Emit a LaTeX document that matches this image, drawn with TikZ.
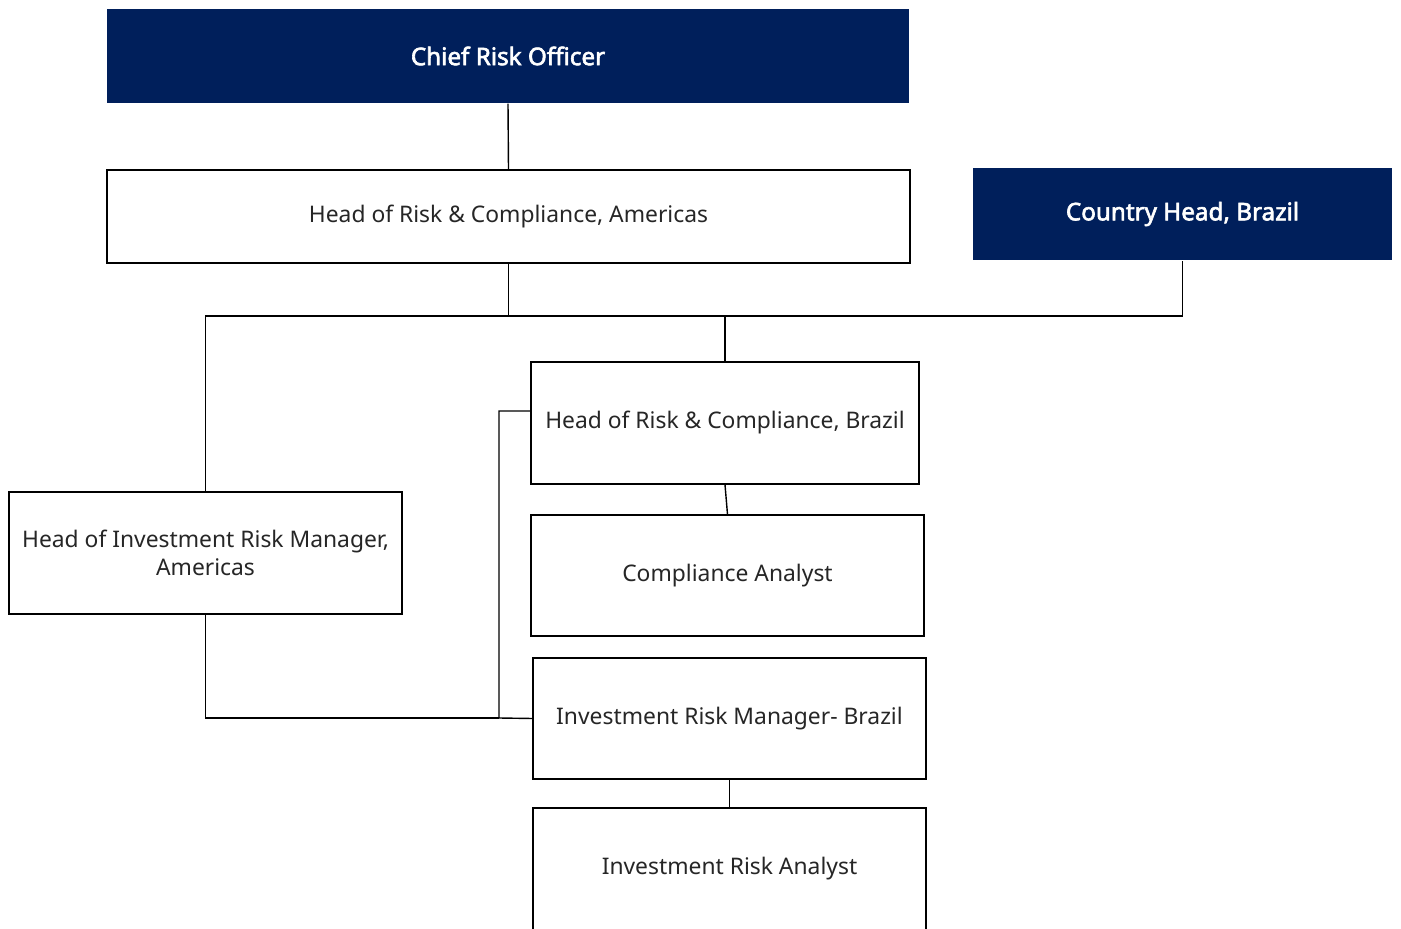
\documentclass[tikz,border=0pt]{standalone}
\usepackage{fontspec}
\setmainfont{Noto Sans}
\newfontfamily\headfont{Noto Sans}[FakeBold=2.5]
\usepackage{tikz}

\definecolor{navy}{HTML}{001F5B}

\begin{document}
\begin{tikzpicture}[x=0.02cm, y=-0.02cm, line width=.8pt,
    every node/.style={font=\fontsize{13}{16}\selectfont, align=center, text=black!85},
    box/.style={draw, rectangle, inner sep=2pt},
    headbox/.style={fill=navy, rectangle, text=white, font=\fontsize{13.8}{16}\selectfont\headfont}]
  \useasboundingbox (0,0) rectangle (1401,929);
  \node [headbox, minimum width=16.04cm, minimum height=1.88cm] (cro) at (508,56) {Chief Risk Officer};
  \node [box, minimum width=16.06cm, minimum height=1.86cm] (hrcam) at (508.5,216.5) {Head of Risk \& Compliance, Americas};
  \node [headbox, minimum width=8.38cm, minimum height=1.84cm] (chbr) at (1182.5,214) {Country Head, Brazil};
  \node [box, minimum width=7.76cm, minimum height=2.44cm] (hrcbr) at (725,423) {Head of Risk \& Compliance, Brazil};
  \node [box, minimum width=7.86cm, minimum height=2.44cm] (hirm) at (205.5,553) {Head of Investment Risk Manager,\\Americas};
  \node [box, minimum width=7.86cm, minimum height=2.42cm] (ca) at (727.5,575.5) {Compliance Analyst};
  \node [box, minimum width=7.86cm, minimum height=2.42cm] (irm) at (729.5,718.5) {Investment Risk Manager- Brazil};
  \node [box, minimum width=7.86cm, minimum height=2.44cm] (ira) at (729.5,869) {Investment Risk Analyst};
  \coordinate (busL) at (hirm.north |- 0,316);
  \coordinate (busR) at (chbr.south |- 0,316);
  \coordinate (join) at (499,718);
  \draw (cro.south) -- (hrcam.north);
  \draw (hrcam.south) -- (hrcam.south |- busL);
  \draw (hirm.north) -- (busL) -- (busR) -- (chbr.south);
  \draw (hrcbr.north) -- (hrcbr.north |- busL);
  \draw (hrcbr.south) -- (ca.north);
  \draw (hrcbr.west |- 0,411) -| (join) -- (irm.west);
  \draw (hirm.south) |- (join);
  \draw (irm.south) -- (ira.north);
\end{tikzpicture}
\end{document}
